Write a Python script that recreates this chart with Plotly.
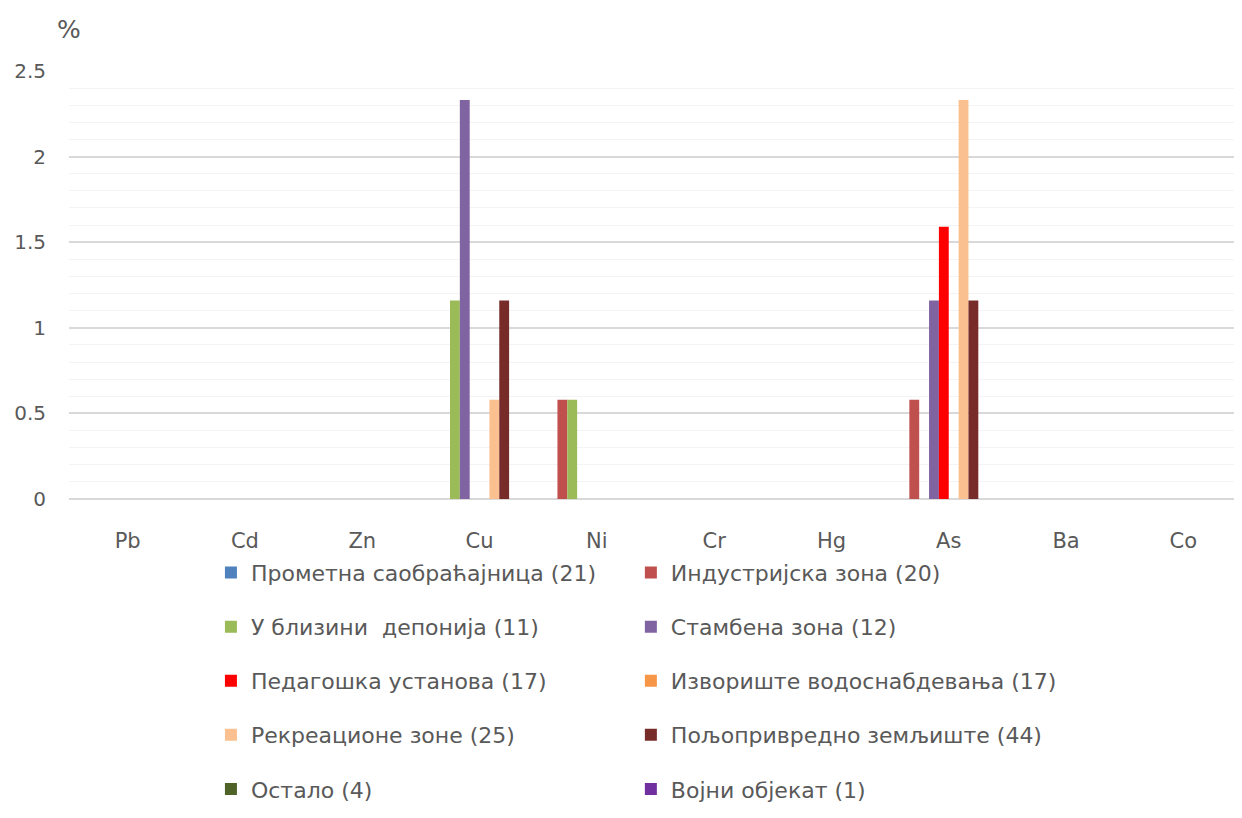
import plotly.graph_objects as go

categories = ["Pb", "Cd", "Zn", "Cu", "Ni", "Cr", "Hg", "As", "Ba", "Co"]

series_names = [
    "Прометна саобраћајница (21)",
    "Индустријска зона (20)",
    "У близини  депонија (11)",
    "Стамбена зона (12)",
    "Педагошка установа (17)",
    "Извориште водоснабдевања (17)",
    "Рекреационе зоне (25)",
    "Пољопривредно земљиште (44)",
    "Остало (4)",
    "Војни објекат (1)",
]

prometna = [0, 0, 0, 0, 0, 0, 0, 0, 0, 0]
industrijska = [0, 0, 0, 0, 0.58, 0, 0, 0.58, 0, 0]
deponija = [0, 0, 0, 1.16, 0.58, 0, 0, 0, 0, 0]
stambena = [0, 0, 0, 2.33, 0, 0, 0, 1.16, 0, 0]
pedagoska = [0, 0, 0, 0, 0, 0, 0, 1.59, 0, 0]
izvoriste = [0, 0, 0, 0, 0, 0, 0, 0, 0, 0]
rekreacione = [0, 0, 0, 0.58, 0, 0, 0, 2.33, 0, 0]
poljoprivredno = [0, 0, 0, 1.16, 0, 0, 0, 1.16, 0, 0]
ostalo = [0, 0, 0, 0, 0, 0, 0, 0, 0, 0]
vojni = [0, 0, 0, 0, 0, 0, 0, 0, 0, 0]

series_values = [prometna, industrijska, deponija, stambena, pedagoska,
                 izvoriste, rekreacione, poljoprivredno, ostalo, vojni]

y_ticks = [0, 0.5, 1, 1.5, 2, 2.5]
y_tick_labels = ["0", "0.5", "1", "1.5", "2", "2.5"]

colors = ["#4F81BD", "#C0504D", "#9BBB59", "#8064A2", "#FF0000",
          "#F79646", "#FAC090", "#772C2A", "#4F6228", "#7030A0"]

FONT = "DejaVu Sans"
GRAY = "#595959"

fig = go.Figure()
for i, (name, vals, col) in enumerate(zip(series_names, series_values, colors)):
    fig.add_trace(go.Bar(
        x=categories, y=vals, name=name,
        marker=dict(color=col, line=dict(width=0)),
        legend="legend" if i % 2 == 0 else "legend2",
        legendgroup=f"g{i}",
    ))

legend_common = dict(
    orientation="v",
    font=dict(family=FONT, size=22, color=GRAY),
    tracegroupgap=22.5,
    bgcolor="rgba(0,0,0,0)",
    yanchor="top",
    xanchor="left",
    itemwidth=30,
)

fig.update_layout(
    width=1234, height=810,
    margin=dict(l=61, r=0, t=63, b=319, autoexpand=False),
    paper_bgcolor="white",
    plot_bgcolor="white",
    barmode="group",
    bargap=0.16,
    bargroupgap=0,
    font=dict(family=FONT, color=GRAY),
    xaxis=dict(
        showgrid=False, showline=False, ticks="",
        tickfont=dict(family=FONT, size=21, color=GRAY),
        ticklabelstandoff=27,
        automargin=False,
    ),
    yaxis=dict(
        range=[0, 2.5],
        tickvals=y_ticks,
        ticktext=y_tick_labels,
        showgrid=True, gridcolor="#D9D9D9", gridwidth=1.5,
        zeroline=True, zerolinecolor="#D9D9D9", zerolinewidth=1.5,
        minor=dict(dtick=0.1, showgrid=True, gridcolor="#F4F4F4", gridwidth=1),
        tickfont=dict(family=FONT, size=20, color=GRAY),
        ticklabelstandoff=22,
        automargin=False,
        title=dict(text=""),
    ),
    legend=dict(x=0.121, y=-0.1233, **legend_common),
    legend2=dict(x=0.479, y=-0.1233, **legend_common),
    annotations=[dict(
        text="%", xref="paper", yref="paper", x=0.0, y=1.096,
        xanchor="center", yanchor="middle", showarrow=False,
        font=dict(family=FONT, size=25, color=GRAY),
    )],
)

fig.write_html("out.html")
